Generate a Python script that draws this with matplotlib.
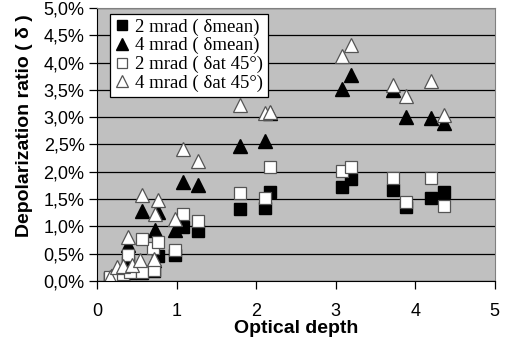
import matplotlib.pyplot as plt
import numpy as np
from matplotlib.ticker import FuncFormatter

# optical depth / depolarization ratio (%)
x_2m_mean = [0.16, 0.25, 0.33, 0.41, 0.57, 0.72, 0.39, 0.77, 0.98, 1.08, 1.27, 1.80, 2.11, 2.17, 3.08, 3.19, 3.72, 3.89, 4.20, 4.36]
y_2m_mean = [0.05, 0.08, 0.10, 0.15, 0.15, 0.18, 0.35, 0.45, 0.47, 0.98, 0.91, 1.31, 1.33, 1.63, 1.72, 1.87, 1.67, 1.35, 1.52, 1.63]

x_4m_mean = [0.16, 0.25, 0.33, 0.39, 0.54, 0.57, 0.72, 0.73, 0.77, 0.98, 1.08, 1.27, 1.80, 2.11, 2.18, 3.08, 3.19, 3.72, 3.89, 4.20, 4.36]
y_4m_mean = [0.05, 0.15, 0.20, 0.65, 0.30, 1.28, 0.39, 0.94, 1.26, 0.94, 1.82, 1.75, 2.48, 2.57, 3.07, 3.52, 3.78, 3.50, 3.00, 2.98, 2.89]

x_2m_45 = [0.16, 0.25, 0.33, 0.41, 0.57, 0.72, 0.39, 0.70, 0.57, 0.77, 0.98, 1.08, 1.27, 1.80, 2.11, 2.17, 3.08, 3.19, 3.72, 3.89, 4.20, 4.36]
y_2m_45 = [0.07, 0.10, 0.12, 0.17, 0.17, 0.20, 0.48, 0.61, 0.76, 0.72, 0.57, 1.22, 1.09, 1.61, 1.52, 2.09, 2.02, 2.09, 1.89, 1.44, 1.89, 1.37]

x_4m_45 = [0.16, 0.25, 0.33, 0.44, 0.54, 0.72, 0.39, 0.57, 0.77, 0.73, 0.98, 1.08, 1.27, 1.80, 2.11, 2.18, 3.08, 3.19, 3.72, 3.89, 4.20, 4.36]
y_4m_45 = [0.07, 0.26, 0.27, 0.30, 0.39, 0.40, 0.81, 1.57, 1.48, 1.22, 1.13, 2.41, 2.20, 3.22, 3.07, 3.10, 4.13, 4.33, 3.59, 3.39, 3.67, 3.04]

labels = ['2 mrad ( \u03b4mean)', '4 mrad ( \u03b4mean)', '2 mrad ( \u03b4at 45\u00b0)', '4 mrad ( \u03b4at 45\u00b0)']

plt.rcParams['font.family'] = ['Liberation Sans', 'DejaVu Sans']

fig = plt.figure(figsize=(5.08, 3.52), dpi=100)
ax = fig.add_axes([0.191, 0.202, 0.783, 0.775])
ax.set_facecolor('#c0c0c0')

ms = 9
ax.plot(x_2m_mean, y_2m_mean, 's', color='black', ms=ms, mec='black', label=labels[0])
ax.plot(x_4m_mean, y_4m_mean, '^', color='black', ms=ms + 1, mec='black', label=labels[1])
ax.plot(x_2m_45, y_2m_45, 's', mfc='white', mec='#555555', mew=0.9, ms=ms, label=labels[2])
ax.plot(x_4m_45, y_4m_45, '^', mfc='white', mec='#555555', mew=0.9, ms=ms + 1, label=labels[3])

ax.set_xlim(0, 5)
ax.set_ylim(0, 5)
ax.set_xticks(np.arange(0, 6, 1))
ax.set_yticks(np.arange(0, 5.01, 0.5))
ax.yaxis.set_major_formatter(FuncFormatter(lambda v, p: f'{v:.1f}%'.replace('.', ',')))
ax.grid(axis='y', color='black', lw=0.9)
ax.set_axisbelow(True)
ax.tick_params(labelsize=13, direction='out', length=6, width=0.9, pad=3)
ax.tick_params(axis='x', pad=10)
for s in ['top', 'right']:
    ax.spines[s].set_color('#808080')
for s in ['left', 'bottom']:
    ax.spines[s].set_color('black')

ax.set_xlabel('Optical depth', fontsize=14, fontweight='bold', labelpad=0)
ax.set_ylabel('Depolarization ratio ( \u03b4 )', fontsize=14, fontweight='bold')
ax.yaxis.set_label_coords(-0.16, 0.57)

leg = ax.legend(loc='upper left', bbox_to_anchor=(0.033, 0.98), frameon=True, fancybox=False,
                edgecolor='black', framealpha=1, prop={'family': 'Liberation Serif', 'size': 13.5},
                handlelength=0.8, handletextpad=0.3, borderpad=0.25, labelspacing=0.08,
                borderaxespad=0, markerscale=0.8)
leg.get_frame().set_linewidth(0.9)

fig.savefig('out.png', dpi=100)
